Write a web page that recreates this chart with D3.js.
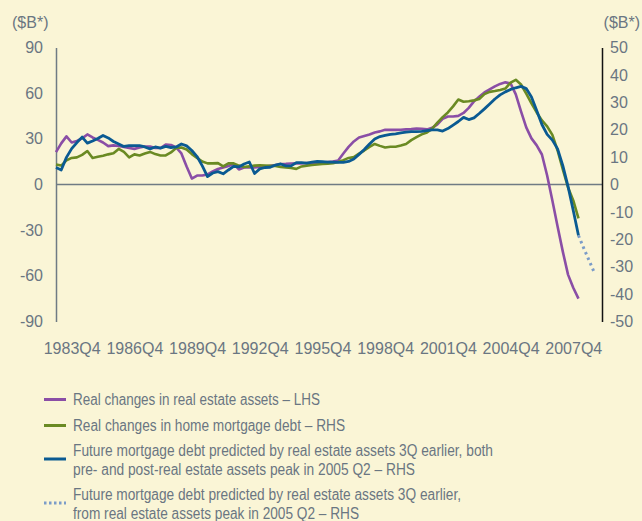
<!DOCTYPE html>
<html>
<head>
<meta charset="utf-8">
<script src="https://cdn.jsdelivr.net/npm/d3@7"></script>
<style>
  body { margin: 0; background: #faf5d6; }
  svg { display: block; font-family: "Liberation Sans", Arial, sans-serif; }
  .axis text { fill: #6a7682; font-size: 16px; }
  .legend text { fill: #6a7682; font-size: 16px; }
</style>
</head>
<body>
<div id="chart"></div>
<script>
(function() {
  var width = 642
  var height = 521

  // quarters from 1983Q1 (index 0)
  var startYear = 1983
  var xTickLabels = ['1983Q4', '1986Q4', '1989Q4', '1992Q4', '1995Q4', '1998Q4', '2001Q4', '2004Q4', '2007Q4']
  var leftTicks = [90, 60, 30, 0, -30, -60, -90]
  var rightTicks = [50, 40, 30, 20, 10, 0, -10, -20, -30, -40, -50]

  // Real changes in real estate assets, LHS ($B), 1983Q1 - 2008Q1
  var realEstate = [
    21.3, 27.0, 31.6, 27.6, 28.6, 30.3, 32.9, 30.9, 29.3, 27.6,
    25.2, 25.7, 25.3, 24.7, 24.0, 23.4, 24.3, 25.0, 25.0, 24.0,
    24.0, 26.3, 26.0, 24.3, 20.4, 11.8, 3.9, 5.9, 5.9, 6.6,
    8.6, 10.2, 11.2, 12.2, 13.5, 9.9, 11.2, 11.2, 11.2, 11.5,
    11.8, 12.3, 12.8, 13.5, 13.6, 13.8, 14.0, 13.8, 14.1, 14.0,
    14.1, 14.5, 14.8, 15.1, 15.8, 20.4, 24.7, 28.3, 30.9, 31.9,
    32.9, 34.2, 34.9, 35.9, 36.0, 35.9, 36.0, 36.2, 36.4, 36.8,
    36.6, 36.2, 37.2, 39.5, 43.1, 44.7, 44.7, 45.1, 47.0, 50.3,
    54.6, 57.6, 60.5, 62.5, 64.5, 66.1, 67.1, 66.4, 59.2, 48.0,
    37.5, 30.3, 25.7, 19.7, 5.9, -10.5, -27.6, -44.1, -59.2, -67.8,
    -75.0
  ]

  // Real changes in home mortgage debt, RHS ($B)
  var mortgageDebt = [
    7.3, 6.9, 8.8, 9.7, 9.9, 10.8, 12.2, 9.7, 10.1, 10.5,
    11.0, 11.4, 13.0, 11.9, 9.9, 11.0, 10.6, 11.3, 11.9, 11.1,
    10.6, 10.6, 11.7, 13.3, 13.5, 12.8, 11.1, 9.7, 8.4, 7.7,
    7.7, 7.8, 6.6, 7.7, 7.7, 6.9, 6.4, 6.6, 6.9, 7.0,
    6.9, 6.8, 6.8, 6.4, 6.2, 6.0, 5.7, 6.6, 6.9, 7.1,
    7.3, 7.5, 7.6, 7.8, 8.2, 8.9, 9.7, 10.0, 11.3, 12.4,
    13.7, 14.8, 14.1, 13.5, 13.8, 13.8, 14.2, 14.8, 16.2, 17.3,
    18.3, 19.0, 20.4, 22.6, 24.6, 26.3, 28.5, 31.0, 30.2, 30.4,
    30.7, 31.2, 33.0, 33.8, 34.1, 34.5, 35.0, 37.2, 38.2, 36.5,
    33.2, 29.6, 26.3, 23.4, 21.2, 18.1, 12.4, 5.5, -1.1, -5.8,
    -12.4
  ]

  // Future mortgage debt predicted by real estate assets 3Q earlier, RHS ($B)
  var predictedDebt = [
    6.2, 5.3, 9.9, 13.1, 15.3, 17.3, 15.1, 15.9, 16.8, 17.9,
    17.0, 15.7, 14.8, 13.9, 14.2, 14.2, 14.2, 13.7, 13.0, 13.7,
    13.3, 13.9, 13.5, 13.7, 14.8, 14.1, 12.4, 10.2, 6.8, 2.9,
    4.2, 4.7, 3.9, 5.3, 6.6, 6.4, 7.5, 8.2, 4.0, 5.7,
    6.2, 6.3, 7.1, 7.5, 6.8, 6.8, 8.0, 8.0, 7.8, 8.2,
    8.4, 8.3, 8.2, 8.2, 8.1, 8.1, 8.4, 9.3, 11.0, 12.8,
    14.8, 16.6, 17.5, 17.9, 18.3, 18.5, 18.8, 19.1, 19.3, 19.3,
    19.4, 19.7, 19.9, 19.9, 19.5, 20.4, 21.7, 23.0, 24.5, 23.7,
    24.3, 25.9, 27.6, 29.4, 31.2, 32.7, 33.8, 34.7, 35.3, 35.8,
    35.0, 31.9, 27.0, 21.9, 18.3, 16.2, 13.0, 6.9, -0.7, -9.5,
    -18.6
  ]

  // Predicted from real estate assets peak in 2005 Q2, RHS ($B), 2008Q1 - 2008Q4
  var predictedFromPeakStart = 100
  var predictedFromPeak = [-18.6, -23.2, -27.6, -32.0]

  var colors = {
    realEstate: '#8a4ea6',
    mortgageDebt: '#6a8a23',
    predictedDebt: '#0a5a92',
    predictedFromPeak: '#7b9cc8'
  }

  var xScale = d3.scaleLinear().domain([0, 104.5]).range([56, 602])
  var yLeft = d3.scaleLinear().domain([-90, 90]).range([321.5, 47.5])
  var yRight = d3.scaleLinear().domain([-50, 50]).range([321.5, 47.5])

  function quarterName(i) {
    return (startYear + Math.floor(i / 4)) + 'Q' + (i % 4 + 1)
  }
  function quarterIndex(label) {
    return (+label.slice(0, 4) - startYear) * 4 + (+label.slice(5) - 1)
  }
  // plain hyphen for negatives, like the original
  var plain = d => String(d)

  var svg = d3.select('#chart')
    .append('svg')
    .attr('width', width)
    .attr('height', height)

  // zero line
  svg.append('line')
    .attr('x1', xScale.range()[0])
    .attr('x2', xScale.range()[1])
    .attr('y1', yLeft(0))
    .attr('y2', yLeft(0))
    .attr('stroke', '#6f7b84')
    .attr('stroke-width', 1.5)

  var leftAxis = svg.append('g')
    .attr('class', 'axis axis-left')
    .attr('transform', 'translate(' + xScale.range()[0] + ',0)')
    .call(d3.axisLeft(yLeft).tickValues(leftTicks).tickFormat(plain).tickSize(0).tickPadding(13))
  leftAxis.select('.domain').attr('stroke', '#6f7b84').attr('stroke-width', 1.5)

  var rightAxis = svg.append('g')
    .attr('class', 'axis axis-right')
    .attr('transform', 'translate(' + xScale.range()[1] + ',0)')
    .call(d3.axisRight(yRight).tickValues(rightTicks).tickFormat(plain).tickSize(0).tickPadding(8))
  rightAxis.select('.domain').attr('stroke', '#111').attr('stroke-width', 1.5)

  var xAxis = svg.append('g')
    .attr('class', 'axis axis-x')
    .attr('transform', 'translate(0,339)')
    .call(d3.axisBottom(xScale)
      .tickValues(xTickLabels.map(quarterIndex))
      .tickFormat(quarterName)
      .tickSize(0)
      .tickPadding(4))
  xAxis.select('.domain').remove()

  svg.append('text').attr('class', 'unit')
    .attr('x', 12).attr('y', 28)
    .attr('fill', '#6a7682').attr('font-size', 16)
    .text('($B*)')
  svg.append('text').attr('class', 'unit')
    .attr('x', 640).attr('y', 28)
    .attr('text-anchor', 'end')
    .attr('fill', '#6a7682').attr('font-size', 16)
    .text('($B*)')

  function lineFor(scale, offset) {
    return d3.line()
      .x((d, i) => xScale(i + offset))
      .y(d => scale(d))
  }

  svg.append('path')
    .datum(realEstate)
    .attr('fill', 'none')
    .attr('stroke', colors.realEstate)
    .attr('stroke-width', 2.6)
    .attr('stroke-linejoin', 'round')
    .attr('d', lineFor(yLeft, 0))

  svg.append('path')
    .datum(mortgageDebt)
    .attr('fill', 'none')
    .attr('stroke', colors.mortgageDebt)
    .attr('stroke-width', 2.6)
    .attr('stroke-linejoin', 'round')
    .attr('d', lineFor(yRight, 0))

  svg.append('path')
    .datum(predictedDebt)
    .attr('fill', 'none')
    .attr('stroke', colors.predictedDebt)
    .attr('stroke-width', 2.8)
    .attr('stroke-linejoin', 'round')
    .attr('d', lineFor(yRight, 0))

  svg.append('path')
    .datum(predictedFromPeak)
    .attr('fill', 'none')
    .attr('stroke', colors.predictedFromPeak)
    .attr('stroke-width', 3)
    .attr('stroke-dasharray', '2.5,3.5')
    .attr('d', lineFor(yRight, predictedFromPeakStart))

  // legend (text widths squeezed to the narrower original face)
  var legendItems = [
    {lines: ['Real changes in real estate assets \u2013 LHS'], widths: [247], color: colors.realEstate, dash: null},
    {lines: ['Real changes in home mortgage debt \u2013 RHS'], widths: [272], color: colors.mortgageDebt, dash: null},
    {lines: ['Future mortgage debt predicted by real estate assets 3Q earlier, both',
             'pre- and post-real estate assets peak in 2005 Q2 \u2013 RHS'], widths: [420, 342], color: colors.predictedDebt, dash: null},
    {lines: ['Future mortgage debt predicted by real estate assets 3Q earlier,',
             'from real estate assets peak in 2005 Q2 \u2013 RHS'], widths: [388, 286], color: colors.predictedFromPeak, dash: '2.5,2.5'}
  ]
  var legendTops = [405, 431, 456, 500]

  var legend = svg.append('g').attr('class', 'legend')
  legendItems.forEach(function(item, k) {
    var g = legend.append('g').attr('transform', 'translate(0,' + legendTops[k] + ')')
    var markY = item.lines.length > 1 ? 3 : -5.5
    g.append('line')
      .attr('x1', 44).attr('x2', 66)
      .attr('y1', markY).attr('y2', markY)
      .attr('stroke', item.color)
      .attr('stroke-width', 3)
      .attr('stroke-dasharray', item.dash)
    item.lines.forEach(function(t, j) {
      g.append('text')
        .attr('x', 73)
        .attr('y', j * 19)
        .attr('textLength', item.widths[j])
        .attr('lengthAdjust', 'spacingAndGlyphs')
        .text(t)
    })
  })
})()
</script>
</body>
</html>
